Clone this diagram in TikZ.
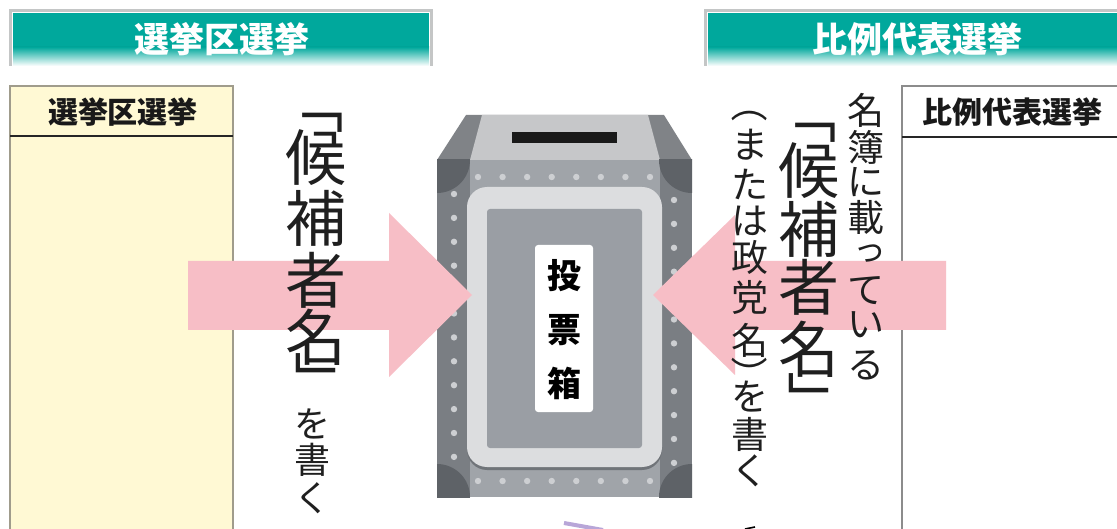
\documentclass[tikz,border=0pt]{standalone}
\usepackage{fontspec}
\newfontfamily\jp{Noto Sans CJK JP}
\definecolor{bannerteal}{RGB}{0,168,156}
\definecolor{bannerrim}{RGB}{196,198,198}
\definecolor{arrowpink}{RGB}{247,190,198}
\definecolor{colyellow}{RGB}{255,249,212}
\definecolor{colrim}{RGB}{160,156,140}
\definecolor{lidside}{RGB}{128,131,135}
\definecolor{lidtop}{RGB}{198,199,201}
\definecolor{boxside}{RGB}{122,126,131}
\definecolor{boxmid}{RGB}{160,164,169}
\definecolor{boxcorner}{RGB}{94,98,103}
\definecolor{panelrim}{RGB}{220,221,223}
\definecolor{panelshade}{RGB}{112,116,121}
\definecolor{panelin}{RGB}{154,158,164}
\definecolor{rivet}{RGB}{205,207,210}
\definecolor{fragpurple}{RGB}{184,166,216}
\tikzset{
  vch/.style={inner sep=0pt, anchor=center, text=black!88},
  bigch/.style={vch, font=\jp\fontsize{61}{61}\selectfont},
  midch/.style={vch, font=\jp\fontsize{37}{37}\selectfont},
  smallch/.style={vch, font=\jp\fontsize{36}{36}\selectfont},
  turned/.style={rotate=-90},
  bannertext/.style={inner sep=0pt, text=white, font=\jp\bfseries\fontsize{35}{35}\selectfont},
  headtext/.style={inner sep=0pt, text=black!90, font=\jp\bfseries\fontsize{30}{30}\selectfont},
  labeltext/.style={inner sep=0pt, text=black, font=\jp\bfseries\fontsize{34}{34}\selectfont},
  rivetdot/.style={fill=rivet}
}
\begin{document}
\begin{tikzpicture}[x=1pt,y=-1pt]
\useasboundingbox (0,0) rectangle (1117,529);
\fill[white] (0,0) rectangle (1117,529);

% ---- banners ----
\fill[bannerrim] (9,9) rectangle (433,66);
\fill[white] (12,12) rectangle (430,66);
\fill[bannerteal] (13,13) rectangle (429,47);
\shade[top color=bannerteal, bottom color=white] (13,47) rectangle (429,66);
\node[bannertext] (bannerL) at (222,39) {選挙区選挙};

\fill[bannerrim] (704,9) rectangle (1117,66);
\fill[white] (707,12) rectangle (1117,66);
\fill[bannerteal] (708,13) rectangle (1117,47);
\shade[top color=bannerteal, bottom color=white] (708,47) rectangle (1117,66);
\node[bannertext] (bannerR) at (917,39) {比例代表選挙};

% ---- table columns ----
\fill[colyellow] (10,86) rectangle (233,530);
\draw[colrim, line width=1.6pt] (10,530) -- (10,86) -- (233,86) -- (233,530);
\draw[black!85, line width=2pt] (10,136) -- (233,136);
\node[headtext] (headL) at (123,112) {選挙区選挙};

\draw[black!45, line width=1.4pt] (902,530) -- (902,86) -- (1118,86);
\draw[black!85, line width=2pt] (902,137) -- (1118,137);
\node[headtext] (headR) at (1012,112) {比例代表選挙};

% ---- ballot box ----
\fill[lidside] (437,160) -- (466,115) -- (664,115) -- (692,160) -- cycle;
\fill[lidtop] (482,115) -- (648,115) -- (660,160) -- (470,160) -- cycle;
\fill[black!90] (512,132) rectangle (617,143);

\fill[boxside] (437,160) rectangle (692,497);
\fill[boxmid] (470,160) rectangle (660,497);
\begin{scope}
  \clip (437,160) rectangle (692,497);
  \fill[boxcorner] (437,160) circle[radius=33];
  \fill[boxcorner] (692,160) circle[radius=33];
  \fill[boxcorner] (437,497) circle[radius=33];
  \fill[boxcorner] (692,497) circle[radius=33];
\end{scope}
\fill[panelshade, rounded corners=20pt] (467,190) rectangle (662,470);
\fill[panelrim, rounded corners=20pt] (467,187) rectangle (662,467);
\fill[panelin, rounded corners=3pt] (487,209) rectangle (642,448);
\foreach \i in {0,...,7} {
  \fill[rivetdot] (478+\i*24.57,177) circle[radius=3.2];
  \fill[rivetdot] (478+\i*24.57,481) circle[radius=3.2];
}
\foreach \i in {0,...,11} {
  \fill[rivetdot] (454,194+\i*23.9) circle[radius=3.2];
  \fill[rivetdot] (674,200+\i*23.9) circle[radius=3.2];
}
\fill[white, rounded corners=3pt] (535,245) rectangle (593,412);
\node[labeltext] (tou) at (564,276) {投};
\node[labeltext] (hyou) at (564,330) {票};
\node[labeltext] (bako) at (564,383) {箱};

% ---- pink arrows ----
\fill[arrowpink] (188,261) -- (389,261) -- (389,213) -- (472,295) -- (389,377) -- (389,330) -- (188,330) -- cycle;
\fill[arrowpink] (946,261) -- (735,261) -- (735,215) -- (653,295) -- (735,375) -- (735,330) -- (946,330) -- cycle;

% ---- vertical text, left ----
\node[bigch, turned] (LBopen) at (316,104) {「};
\foreach \ch/\yy [count=\i] in {候/158, 補/218, 者/280, 名/337}
  \node[bigch] (LB\i) at (316,\yy) {\ch};
\node[bigch, turned] (LBclose) at (316,382) {」};
\foreach \ch/\yy [count=\i] in {を/424, 書/460, く/498}
  \node[smallch] (LS\i) at (312,\yy) {\ch};

% ---- vertical text, right ----
\foreach \ch/\yy [count=\i] in {名/110, 簿/147, に/182, 載/217, て/291, い/325, る/365}
  \node[midch] (RA\i) at (866,\yy) {\ch};
\node[vch, font=\jp\fontsize{33}{33}\selectfont] (RAsmall) at (870,254) {っ};
\node[bigch, turned] (RBopen) at (809,114) {「};
\foreach \ch/\yy [count=\i] in {候/171, 補/229, 者/287, 名/349}
  \node[bigch] (RB\i) at (809,\yy) {\ch};
\node[bigch, turned] (RBclose) at (809,402) {」};
\node[midch, turned] (RCopen) at (750,104) {（};
\foreach \ch/\yy [count=\i] in {ま/145, た/184, は/221, 政/257, 党/297, 名/340}
  \node[midch] (RC\i) at (750,\yy) {\ch};
\node[midch, turned] (RCclose) at (750,375) {）};
\foreach \ch/\yy [count=\i] in {を/397, 書/434, く/471}
  \node[midch] (RD\i) at (750,\yy) {\ch};

% ---- fragments at the lower edge ----
\draw[fragpurple, line width=4pt] (564,523) -- (603,530);
\draw[black, line width=1.6pt] (745,529) -- (755,527);
\end{tikzpicture}
\end{document}
